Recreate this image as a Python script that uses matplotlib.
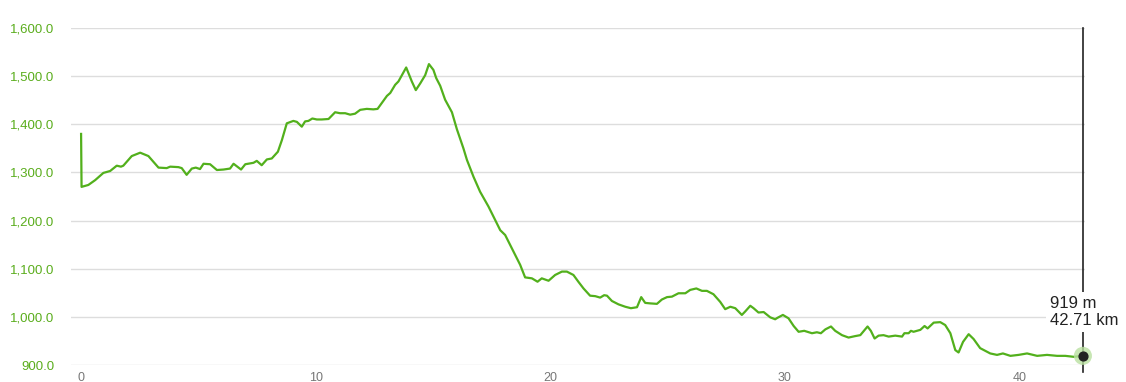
import numpy as np
import matplotlib
matplotlib.use('Agg')
import matplotlib.pyplot as plt
from matplotlib.ticker import FuncFormatter

plt.rcParams['font.family'] = ['Liberation Sans', 'DejaVu Sans']

# distance (km) and elevation (m)
dist = [0, 0.02, 0.31, 0.6, 0.95, 1.24, 1.52, 1.7, 1.8, 2.16, 2.52, 2.87, 3.3, 3.65,
        3.8, 4.15, 4.29, 4.5, 4.72, 4.89, 5.07, 5.22, 5.5, 5.79, 6.07, 6.35, 6.5,
        6.82, 7.0, 7.35, 7.49, 7.7, 7.92, 8.13, 8.39, 8.56, 8.77, 9.05, 9.2, 9.41,
        9.55, 9.69, 9.86, 10.05, 10.26, 10.55, 10.83, 11.04, 11.26, 11.47, 11.68,
        11.9, 12.18, 12.46, 12.64, 12.82, 13.04, 13.18, 13.39, 13.53, 13.86, 14.1,
        14.27, 14.46, 14.67, 14.83, 15.02, 15.14, 15.31, 15.52, 15.81, 16.02, 16.3,
        16.45, 16.73, 17.01, 17.37, 17.87, 18.08, 18.44, 18.72, 18.93, 19.22, 19.46,
        19.64, 19.93, 20.21, 20.5, 20.71, 20.99, 21.2, 21.42, 21.7, 21.92, 22.13,
        22.3, 22.42, 22.63, 22.91, 23.2, 23.44, 23.7, 23.88, 24.05, 24.26, 24.55,
        24.76, 24.98, 25.19, 25.47, 25.76, 25.97, 26.23, 26.47, 26.68, 26.96, 27.25,
        27.46, 27.68, 27.89, 28.17, 28.31, 28.53, 28.67, 28.88, 29.1, 29.38, 29.59,
        29.69, 29.92, 30.16, 30.38, 30.59, 30.83, 31.16, 31.37, 31.54, 31.73, 31.97,
        32.15, 32.44, 32.72, 33.0, 33.22, 33.53, 33.67, 33.83, 34.0, 34.21, 34.43,
        34.71, 35.0, 35.1, 35.28, 35.38, 35.49, 35.78, 35.96, 36.09, 36.35, 36.63,
        36.84, 37.06, 37.27, 37.41, 37.6, 37.84, 38.05, 38.33, 38.76, 39.05, 39.3,
        39.62, 39.97, 40.33, 40.76, 41.18, 41.61, 41.96, 42.32, 42.71]
elev = [1380, 1270, 1274, 1284, 1299, 1303, 1314, 1312, 1314, 1334, 1341, 1334, 1310, 1309,
        1312, 1311, 1309, 1295, 1308, 1310, 1307, 1318, 1317, 1305, 1306, 1308, 1318,
        1306, 1317, 1320, 1324, 1315, 1327, 1329, 1343, 1367, 1402, 1407, 1405, 1395,
        1406, 1407, 1412, 1410, 1410, 1411, 1425, 1423, 1423, 1420, 1422,
        1430, 1432, 1431, 1432, 1444, 1459, 1465, 1482, 1489, 1518, 1489,
        1471, 1485, 1502, 1525, 1513, 1496, 1480, 1451, 1425, 1390, 1350,
        1326, 1291, 1260, 1229, 1180, 1170, 1135, 1108, 1082, 1080, 1073,
        1080, 1075, 1087, 1094, 1094, 1087, 1073, 1059, 1044, 1043, 1040,
        1045, 1044, 1033, 1026, 1021, 1018, 1020, 1041, 1029, 1028, 1027,
        1036, 1041, 1042, 1049, 1049, 1056, 1059, 1054, 1054, 1047, 1031,
        1016, 1021, 1018, 1004, 1011, 1023, 1018, 1009, 1010, 999, 995,
        998, 1004, 997, 981, 969, 971, 966, 968, 966, 974, 980,
        971, 962, 957, 960, 962, 980, 971, 955, 961, 962, 959,
        961, 959, 966, 966, 971, 969, 973, 981, 976, 988, 989,
        983, 966, 931, 926, 948, 964, 954, 935, 924, 921, 924,
        919, 921, 924, 919, 921, 919, 919, 917, 919]

yticks = [900, 1000, 1100, 1200, 1300, 1400, 1500, 1600]
xticks = [0, 10, 20, 30, 40]
cur_km = 42.71
cur_m = 919

green = '#52b01c'

fig = plt.figure(figsize=(11.26, 3.82), dpi=100)
ax = fig.add_axes([71/1126, 17/382, (1085-71)/1126, (365-28)/382])

ax.plot(dist, elev, color=green, lw=1.6, solid_joinstyle='round', zorder=3)

ax.set_xlim(-0.43, 42.8)
ax.set_ylim(900, 1600)
ax.set_yticks(yticks)
ax.set_xticks(xticks)
ax.yaxis.set_major_formatter(FuncFormatter(lambda v, p: '{:,.1f}'.format(v)))
ax.tick_params(axis='y', length=0, pad=12, labelsize=9.5, labelcolor='#5aad1c')
ax.tick_params(axis='x', length=0, pad=5, labelsize=9, labelcolor='#777777')
ax.grid(axis='y', color='#dddddd', lw=1)
for s in ax.spines.values():
    s.set_visible(False)

# hover marker
ax.plot([cur_km, cur_km], [885, 1600], color='#222222', lw=1.2, clip_on=False, zorder=4)
ax.scatter([cur_km], [cur_m], s=170, color='#b9e0a0', alpha=0.8, clip_on=False, zorder=5, edgecolors='none')
ax.scatter([cur_km], [cur_m], s=40, color='#222222', clip_on=False, zorder=6)
ax.text(41.3, 1010, '%d m\n%.2f km' % (cur_m, cur_km), fontsize=12, color='#222222',
        ha='left', va='center', linespacing=1.15, zorder=7,
        bbox=dict(facecolor='white', edgecolor='none', pad=3))

plt.savefig('out.png', dpi=100)
